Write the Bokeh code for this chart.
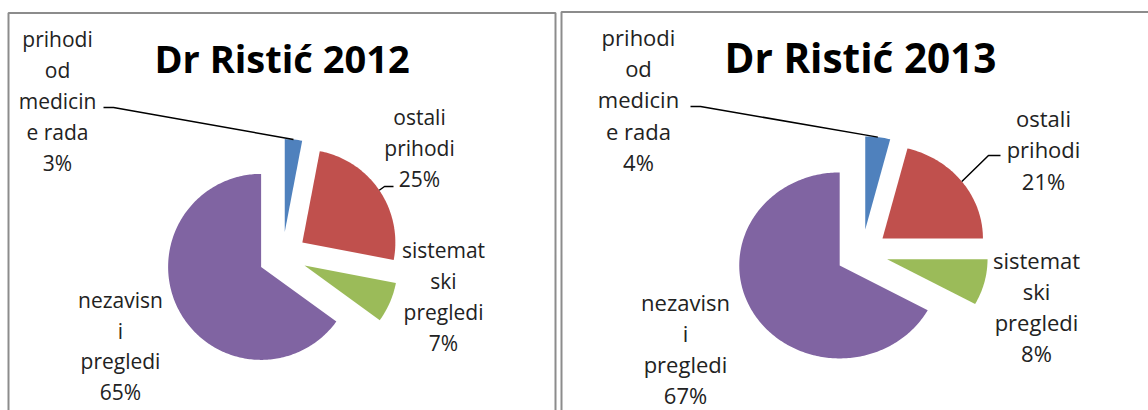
import numpy as np
from bokeh.plotting import figure
from bokeh.models import Range1d
from bokeh.core.properties import value
from bokeh.embed import file_html
from bokeh.resources import INLINE

# ---------------- data ----------------
categories = ["prihodi od medicine rada", "ostali prihodi", "sistematski pregledi", "nezavisni pregledi"]
label_lines = ["prihodi\nod\nmedicin\ne rada", "ostali\nprihodi", "sistemat\nski\npregledi", "nezavisn\ni\npregledi"]
values_2012 = [3, 25, 7, 65]
values_2013 = [4, 21, 8, 67]
colors = ["#4F81BD", "#C0504D", "#9BBB59", "#8064A2"]
titles = ["Dr Ristić 2012", "Dr Ristić 2013"]

# ---------------- layout (page pixel coordinates) ----------------
W, H = 1148, 410
p = figure(width=W, height=H, output_backend="svg", toolbar_location=None,
           x_range=Range1d(0, W), y_range=Range1d(H, 0),
           x_axis_location=None, y_axis_location=None, min_border=0,
           outline_line_color=None, background_fill_color="white", border_fill_color="white")
p.grid.visible = False

panels = [
    dict(values=values_2012, title=titles[0], cx=282.0, cy=255.5, sx=1.0, r=93.0, d=24.0,
         title_xy=(281.5, 57), title_size="38px", font="21px", lh=1.1,
         label_xy=[(57, 100.5), (419, 147.5), (443, 296), (120, 345.5)],
         leaders={0: [(103, 107), (113, 107)], 1: [(393, 186), (384, 186)]},
         border=[[8, 8, 555, 555], [430, 12.5, 12.5, 430]]),
    dict(values=values_2013, title=titles[1], cx=861.5, cy=252.7, sx=1.08, r=93.0, d=24.0,
         title_xy=(860, 57), title_size="40.5px", font="22px", lh=1.04,
         label_xy=[(638, 99), (1043, 149), (1036, 306), (685, 348)],
         leaders={0: [(690, 106), (700, 106)], 1: [(1000, 155), (988, 155)]},
         border=[[561, 561, 1152, 1152], [430, 11.5, 11.5, 430]]),
]

for pan in panels:
    vals = np.array(pan["values"], dtype=float)
    frac = vals / vals.sum()
    ends = np.cumsum(frac)
    starts = ends - frac
    rx, ry = pan["r"] * pan["sx"], pan["r"]
    xs, ys = [], []
    leader_xs, leader_ys = [], []
    for i, (s, e) in enumerate(zip(starts, ends)):
        t0, t1 = s * 2 * np.pi, e * 2 * np.pi
        tm = 0.5 * (t0 + t1)
        vx = pan["cx"] + pan["d"] * pan["sx"] * np.sin(tm)
        vy = pan["cy"] - pan["d"] * np.cos(tm)
        n = max(3, int(np.degrees(t1 - t0)))
        th = np.linspace(t0, t1, n)
        px = np.concatenate([[vx], vx + rx * np.sin(th)])
        py = np.concatenate([[vy], vy - ry * np.cos(th)])
        xs.append(list(px))
        ys.append(list(py))
        if i in pan["leaders"]:
            pts = pan["leaders"][i]
            ex = vx + rx * np.sin(tm)
            ey = vy - ry * np.cos(tm)
            leader_xs.append([pts[0][0], pts[1][0], ex])
            leader_ys.append([pts[0][1], pts[1][1], ey])
    p.patches(xs, ys, fill_color=colors, line_color=None)
    p.multi_line(leader_xs, leader_ys, line_color="black", line_width=1.5)

    texts = [f"{lab}\n{int(v)}%" for lab, v in zip(label_lines, pan["values"])]
    p.text(x=[q[0] for q in pan["label_xy"]], y=[q[1] for q in pan["label_xy"]], text=texts,
           text_align="center", text_baseline="middle", text_font=value("Open Sans"),
           text_font_size=pan["font"], text_line_height=pan["lh"], text_color="#222222")
    p.text(x=[pan["title_xy"][0]], y=[pan["title_xy"][1]], text=[pan["title"]],
           text_align="center", text_baseline="middle", text_font=value("Open Sans"),
           text_font_style="bold", text_font_size=pan["title_size"], text_color="black")
    p.line(pan["border"][0], pan["border"][1], line_color="#8c8c8c", line_width=2)

open("out.html", "w").write(file_html(p, INLINE))
